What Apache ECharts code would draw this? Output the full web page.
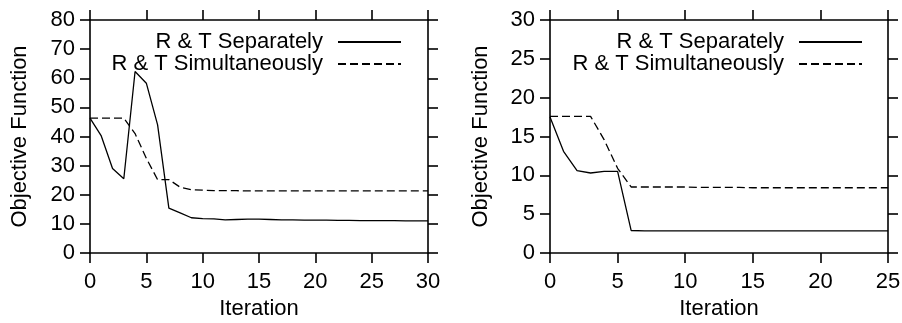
<!DOCTYPE html>
<html>
<head>
<meta charset="utf-8">
<script src="https://cdn.jsdelivr.net/npm/echarts@6/dist/echarts.min.js"></script>
<style>
html,body{margin:0;padding:0;background:#fff;}
#main{width:902px;height:323px;}
</style>
</head>
<body>
<div id="main"></div>
<script>
const seriesNames = ['R & T Separately', 'R & T Simultaneously'];
const xAxisName = 'Iteration';
const yAxisName = 'Objective Function';

const iterationsLeft = [0,1,2,3,4,5,6,7,8,9,10,11,12,13,14,15,16,17,18,19,20,21,22,23,24,25,26,27,28,29,30];
const separatelyLeft = [46.3,40.2,29.0,25.5,62.3,58.3,44.0,15.4,13.8,12.1,11.8,11.7,11.4,11.5,11.6,11.6,11.5,11.4,11.4,11.3,11.3,11.3,11.2,11.2,11.1,11.1,11.1,11.1,11.0,11.0,11.0];
const simultaneouslyLeft = [46.3,46.3,46.3,46.3,41.0,32.5,25.2,25.2,22.6,21.7,21.6,21.4,21.4,21.4,21.3,21.3,21.3,21.3,21.3,21.3,21.3,21.3,21.3,21.3,21.3,21.3,21.3,21.3,21.3,21.3,21.3];

const iterationsRight = [0,1,2,3,4,5,6,7,8,9,10,11,12,13,14,15,16,17,18,19,20,21,22,23,24,25];
const separatelyRight = [17.5,13.1,10.6,10.3,10.5,10.5,2.9,2.85,2.85,2.85,2.85,2.85,2.85,2.85,2.85,2.85,2.85,2.85,2.85,2.85,2.85,2.85,2.85,2.85,2.85,2.85];
const simultaneouslyRight = [17.6,17.6,17.6,17.6,14.6,10.9,8.5,8.5,8.5,8.5,8.5,8.45,8.45,8.45,8.45,8.4,8.4,8.4,8.4,8.4,8.4,8.4,8.4,8.4,8.4,8.4];

const xTicksLeft = {min: 0, max: 30, interval: 5};
const yTicksLeft = {min: 0, max: 80, interval: 10};
const xTicksRight = {min: 0, max: 25, interval: 5};
const yTicksRight = {min: 0, max: 30, interval: 5};

const FONT = '"Liberation Sans", Arial, Helvetica, sans-serif';
const INK = '#000';

function pairs(xs, ys){ return xs.map((x,i)=>[x, ys[i]]); }

function axisBase(t, gridIndex, extra){
  return Object.assign({
    type: 'value', gridIndex, min: t.min, max: t.max, interval: t.interval,
    axisLine: {show: true, onZero: false, lineStyle: {color: INK, width: 1.6}},
    axisTick: {show: true, inside: false, length: 10, lineStyle: {color: INK, width: 1.6}},
    splitLine: {show: false},
    axisLabel: {show: true, color: INK, fontSize: 22, fontFamily: FONT, margin: 15},
    nameTextStyle: {color: INK, fontSize: 22, fontFamily: FONT}
  }, extra);
}
function mirror(t, gridIndex, pos){
  return axisBase(t, gridIndex, {position: pos, axisLabel: {show: false}});
}

const solidStyle = {color: INK, width: 1.3, type: 'solid'};
const dashStyle = {color: INK, width: 1.3, type: [8, 4]};

function lineSeries(name, xi, yi, data, style){
  return {
    name, type: 'line', xAxisIndex: xi, yAxisIndex: yi,
    data, symbol: 'none', showSymbol: false, smooth: false,
    lineStyle: style, itemStyle: {color: INK}, animation: false, silent: true
  };
}

function legendAt(right){
  return {
    orient: 'vertical', right: right, top: 31, padding: 0,
    align: 'right', itemWidth: 63, itemHeight: 10, itemGap: 0,
    selectedMode: false,
    itemStyle: {opacity: 0},
    lineStyle: {inherit: true},
    data: seriesNames,
    textStyle: {color: INK, fontSize: 22, fontFamily: FONT, lineHeight: 22, padding: [0, 10, 0, 0]}
  };
}

const chart = echarts.init(document.getElementById('main'), null, {renderer: 'canvas'});
chart.setOption({
  backgroundColor: '#fff',
  animation: false,
  grid: [
    {left: 90, right: 474, top: 20, bottom: 70, show: false, containLabel: false, outerBoundsMode: 'none'},
    {left: 550, right: 14, top: 20, bottom: 70, show: false, containLabel: false, outerBoundsMode: 'none'}
  ],
  legend: [legendAt(500), legendAt(39)],
  xAxis: [
    axisBase(xTicksLeft, 0, {position: 'bottom', name: xAxisName, nameLocation: 'middle', nameGap: 45,
      axisLabel: {show: true, color: INK, fontSize: 22, fontFamily: FONT, margin: 18}}),
    mirror(xTicksLeft, 0, 'top'),
    axisBase(xTicksRight, 1, {position: 'bottom', name: xAxisName, nameLocation: 'middle', nameGap: 45,
      axisLabel: {show: true, color: INK, fontSize: 22, fontFamily: FONT, margin: 18}}),
    mirror(xTicksRight, 1, 'top')
  ],
  yAxis: [
    axisBase(yTicksLeft, 0, {position: 'left', name: yAxisName, nameLocation: 'middle', nameGap: 59}),
    mirror(yTicksLeft, 0, 'right'),
    axisBase(yTicksRight, 1, {position: 'left', name: yAxisName, nameLocation: 'middle', nameGap: 58}),
    mirror(yTicksRight, 1, 'right')
  ],
  series: [
    lineSeries(seriesNames[0], 0, 0, pairs(iterationsLeft, separatelyLeft), solidStyle),
    lineSeries(seriesNames[1], 0, 0, pairs(iterationsLeft, simultaneouslyLeft), dashStyle),
    lineSeries(seriesNames[0], 2, 2, pairs(iterationsRight, separatelyRight), solidStyle),
    lineSeries(seriesNames[1], 2, 2, pairs(iterationsRight, simultaneouslyRight), dashStyle)
  ]
});
</script>
</body>
</html>
